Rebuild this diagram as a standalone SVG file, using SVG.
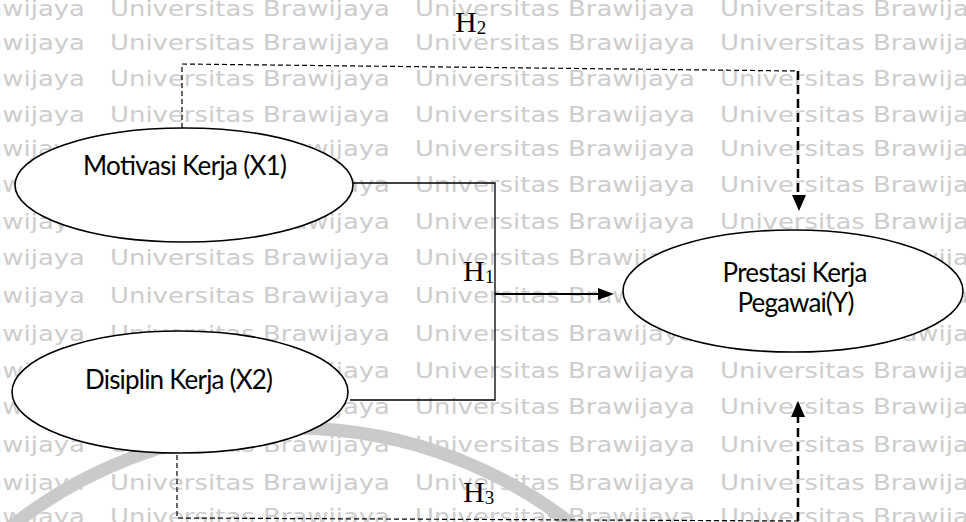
<svg xmlns="http://www.w3.org/2000/svg" width="966" height="522" viewBox="0 0 966 522">
  <style>
    .wm{font-family:"DejaVu Sans",sans-serif;font-size:22px;fill:#cdcdcd}
    .node{fill:#ffffff;stroke:#000000;stroke-width:1.6}
    .lbl{font-family:Lato,"Open Sans",sans-serif;font-size:26px;fill:#000000;text-anchor:middle}
    .h{font-family:"Liberation Serif",serif;font-size:30px;fill:#000000}
    .sub{font-size:19px}
    .solid{fill:none;stroke:#000000;stroke-width:1.3}
    .thin{fill:none;stroke:#000000;stroke-width:1.2;stroke-dasharray:5 3}
    .thick{fill:none;stroke:#000000;stroke-width:2.5;stroke-dasharray:9 5}
    .head{fill:#000000}
  </style>
  <defs>
    <g id="wmrow">
      <text class="wm" x="-195" textLength="280" lengthAdjust="spacingAndGlyphs">Universitas Brawijaya</text>
      <text class="wm" x="110" textLength="280" lengthAdjust="spacingAndGlyphs">Universitas Brawijaya</text>
      <text class="wm" x="415" textLength="280" lengthAdjust="spacingAndGlyphs">Universitas Brawijaya</text>
      <text class="wm" x="720" textLength="280" lengthAdjust="spacingAndGlyphs">Universitas Brawijaya</text>
    </g>
  </defs>

  <rect width="966" height="522" fill="#ffffff"/>

  <!-- background page stamp -->
  <g id="watermark">
    <use href="#wmrow" y="16"/>
    <use href="#wmrow" y="50"/>
    <use href="#wmrow" y="86"/>
    <use href="#wmrow" y="122"/>
    <use href="#wmrow" y="156"/>
    <use href="#wmrow" y="192"/>
    <use href="#wmrow" y="229"/>
    <use href="#wmrow" y="265"/>
    <use href="#wmrow" y="303"/>
    <use href="#wmrow" y="341"/>
    <use href="#wmrow" y="378"/>
    <use href="#wmrow" y="414"/>
    <use href="#wmrow" y="452"/>
    <use href="#wmrow" y="490"/>
    <use href="#wmrow" y="524"/>
    <circle cx="293" cy="880" r="452" fill="none" stroke="#cacaca" stroke-width="13"/>
  </g>

  <!-- connectors -->
  <g id="connectors">
    <!-- H1: both predictors joined by a bracket into one arrow -->
    <path class="solid" d="M353,183 H495 V400 H350"/>
    <line x1="495" y1="294" x2="600" y2="294" stroke="#000" stroke-width="2.2"/>
    <polygon class="head" points="614,294 598,288 598,300"/>

    <!-- H2: X1 to Y -->
    <path class="thin" d="M182,128 V64 L798,71"/>
    <path class="thick" d="M798,71 V196"/>
    <polygon class="head" points="799,211 792,195 806,195"/>

    <!-- H3: X2 to Y -->
    <path class="thin" d="M177,455 V518 L798,521"/>
    <path class="thick" d="M798,521 V416"/>
    <polygon class="head" points="798,401 791,417 805,417"/>
  </g>

  <!-- hypothesis labels -->
  <g id="labels">
    <text class="h" x="455" y="32">H<tspan class="sub" dy="2">2</tspan></text>
    <text class="h" x="463" y="281">H<tspan class="sub" dy="2">1</tspan></text>
    <text class="h" x="463" y="502">H<tspan class="sub" dy="2">3</tspan></text>
  </g>

  <g id="x1">
    <ellipse class="node" cx="184" cy="185" rx="169" ry="57"/>
    <text class="lbl" x="185" y="175" textLength="204">Motivasi Kerja (X1)</text>
  </g>

  <g id="x2">
    <ellipse class="node" cx="180" cy="392" rx="168" ry="61"/>
    <text class="lbl" x="179" y="389" textLength="188">Disiplin Kerja (X2)</text>
  </g>

  <g id="y">
    <ellipse class="node" cx="793" cy="291" rx="170" ry="61"/>
    <text class="lbl" x="795" y="282" textLength="145">Prestasi Kerja</text>
    <text class="lbl" x="796" y="312" textLength="117">Pegawai(Y)</text>
  </g>
</svg>
